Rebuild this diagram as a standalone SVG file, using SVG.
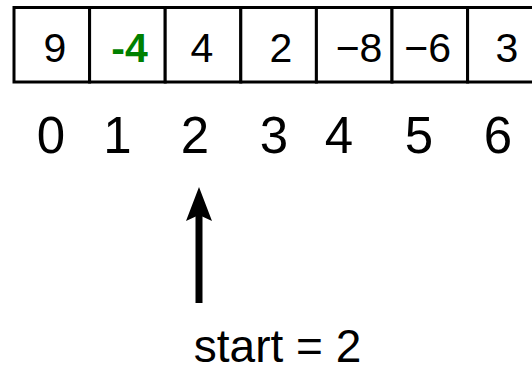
<svg xmlns="http://www.w3.org/2000/svg" width="532" height="366" viewBox="0 0 532 366">
  <style>
    .cell { fill: #ffffff; stroke: #000000; stroke-width: 3; }
    .val { font-family: "Liberation Sans", Arial, sans-serif; font-size: 41px; fill: #000000; text-anchor: middle; }
    .hl { font-weight: bold; fill: #008000; }
    .idx { font-family: "Liberation Sans", Arial, sans-serif; font-size: 51px; fill: #000000; text-anchor: middle; }
    .lbl { font-family: "Liberation Sans", Arial, sans-serif; font-size: 46px; fill: #000000; text-anchor: middle; }
    .conn { stroke: #000000; stroke-width: 7; fill: none; }
  </style>
  <defs>
    <marker id="head" markerUnits="userSpaceOnUse" viewBox="0 0 34 26" markerWidth="34" markerHeight="26" refX="6" refY="13" orient="auto">
      <path d="M0,0 L34,13 L0,26 L6,13 Z" fill="#000000"/>
    </marker>
  </defs>
  <rect width="532" height="366" fill="#ffffff"/>

  <g id="cell0"><rect class="cell" x="14" y="7.5" width="75.6" height="74.5"/><text class="val" x="55" y="61.5">9</text></g>
  <g id="cell1"><rect class="cell" x="89.6" y="7.5" width="75.6" height="74.5"/><text class="val hl" x="129.5" y="61.5">-4</text></g>
  <g id="cell2"><rect class="cell" x="165.2" y="7.5" width="75.6" height="74.5"/><text class="val" x="202" y="61.5">4</text></g>
  <g id="cell3"><rect class="cell" x="240.8" y="7.5" width="75.6" height="74.5"/><text class="val" x="281" y="61.5">2</text></g>
  <g id="cell4"><rect class="cell" x="316.4" y="7.5" width="75.6" height="74.5"/><text class="val" x="359" y="61.5">−8</text></g>
  <g id="cell5"><rect class="cell" x="392" y="7.5" width="75.6" height="74.5"/><text class="val" x="427.6" y="61.5">−6</text></g>
  <g id="cell6"><rect class="cell" x="467.6" y="7.5" width="75.6" height="74.5"/><text class="val" x="507" y="61.5">3</text></g>

  <g id="indices">
    <text class="idx" x="51" y="152.7">0</text>
    <text class="idx" x="117.5" y="152.7">1</text>
    <text class="idx" x="195" y="152.7">2</text>
    <text class="idx" x="274" y="152.7">3</text>
    <text class="idx" x="339" y="152.7">4</text>
    <text class="idx" x="419" y="152.7">5</text>
    <text class="idx" x="498" y="152.7">6</text>
  </g>

  <g id="start-label"><text class="lbl" x="277.5" y="361.7">start = 2</text></g>

  <g id="connectors">
    <line class="conn" x1="199" y1="303" x2="199" y2="215" marker-end="url(#head)"/>
  </g>
</svg>
